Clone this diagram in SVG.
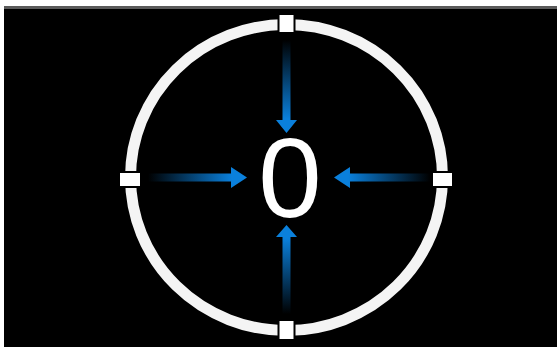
<svg xmlns="http://www.w3.org/2000/svg" width="557" height="347" viewBox="0 0 557 347">
  <defs>
    <linearGradient id="gDown" x1="0" y1="0" x2="0" y2="1">
      <stop offset="0" stop-color="#0a80dc" stop-opacity="0"/>
      <stop offset="0.85" stop-color="#0a80dc" stop-opacity="1"/>
    </linearGradient>
    <linearGradient id="gUp" x1="0" y1="1" x2="0" y2="0">
      <stop offset="0" stop-color="#0a80dc" stop-opacity="0"/>
      <stop offset="0.85" stop-color="#0a80dc" stop-opacity="1"/>
    </linearGradient>
    <linearGradient id="gRight" x1="0" y1="0" x2="1" y2="0">
      <stop offset="0" stop-color="#0a80dc" stop-opacity="0"/>
      <stop offset="0.85" stop-color="#0a80dc" stop-opacity="1"/>
    </linearGradient>
    <linearGradient id="gLeft" x1="1" y1="0" x2="0" y2="0">
      <stop offset="0" stop-color="#0a80dc" stop-opacity="0"/>
      <stop offset="0.85" stop-color="#0a80dc" stop-opacity="1"/>
    </linearGradient>
  </defs>
  <style>
    .tick { fill: #ffffff; stroke: #000000; stroke-width: 2; }
    .ring { fill: none; stroke: #f4f4f4; stroke-width: 11; }
    .label { font-family: "Liberation Sans", Arial, sans-serif; font-size: 114px; fill: #ffffff; text-anchor: middle; }
  </style>
  <rect x="0" y="0" width="557" height="347" fill="#ffffff"/>
  <rect x="4" y="6" width="553" height="3" fill="#5a5a5a"/>
  <rect x="4" y="9" width="553" height="338" fill="#000000"/>

  <g id="ring">
    <ellipse class="ring" cx="286.5" cy="177.5" rx="156" ry="153"/>
  </g>
  <g id="tick-top"><rect class="tick" x="278.5" y="14" width="16" height="19"/></g>
  <g id="tick-bottom"><rect class="tick" x="278.5" y="320" width="16" height="20"/></g>
  <g id="tick-left"><rect class="tick" x="119" y="172" width="22" height="15"/></g>
  <g id="tick-right"><rect class="tick" x="432" y="172" width="21" height="15"/></g>

  <g id="label-0"><text class="label" x="290" y="217">0</text></g>

  <g id="connectors">
    <path d="M282.5 40 H290.5 V120 H297 L286.5 133 L276 120 H282.5 Z" fill="url(#gDown)"/>
    <path d="M282.5 314 H290.5 V237 H297 L286.5 225 L276 237 H282.5 Z" fill="url(#gUp)"/>
    <path d="M148 173.5 H231 V167 L247 177.5 L231 188 V181.5 H148 Z" fill="url(#gRight)"/>
    <path d="M430 173.5 H350 V167 L334 177.5 L350 188 V181.5 H430 Z" fill="url(#gLeft)"/>
  </g>
</svg>
